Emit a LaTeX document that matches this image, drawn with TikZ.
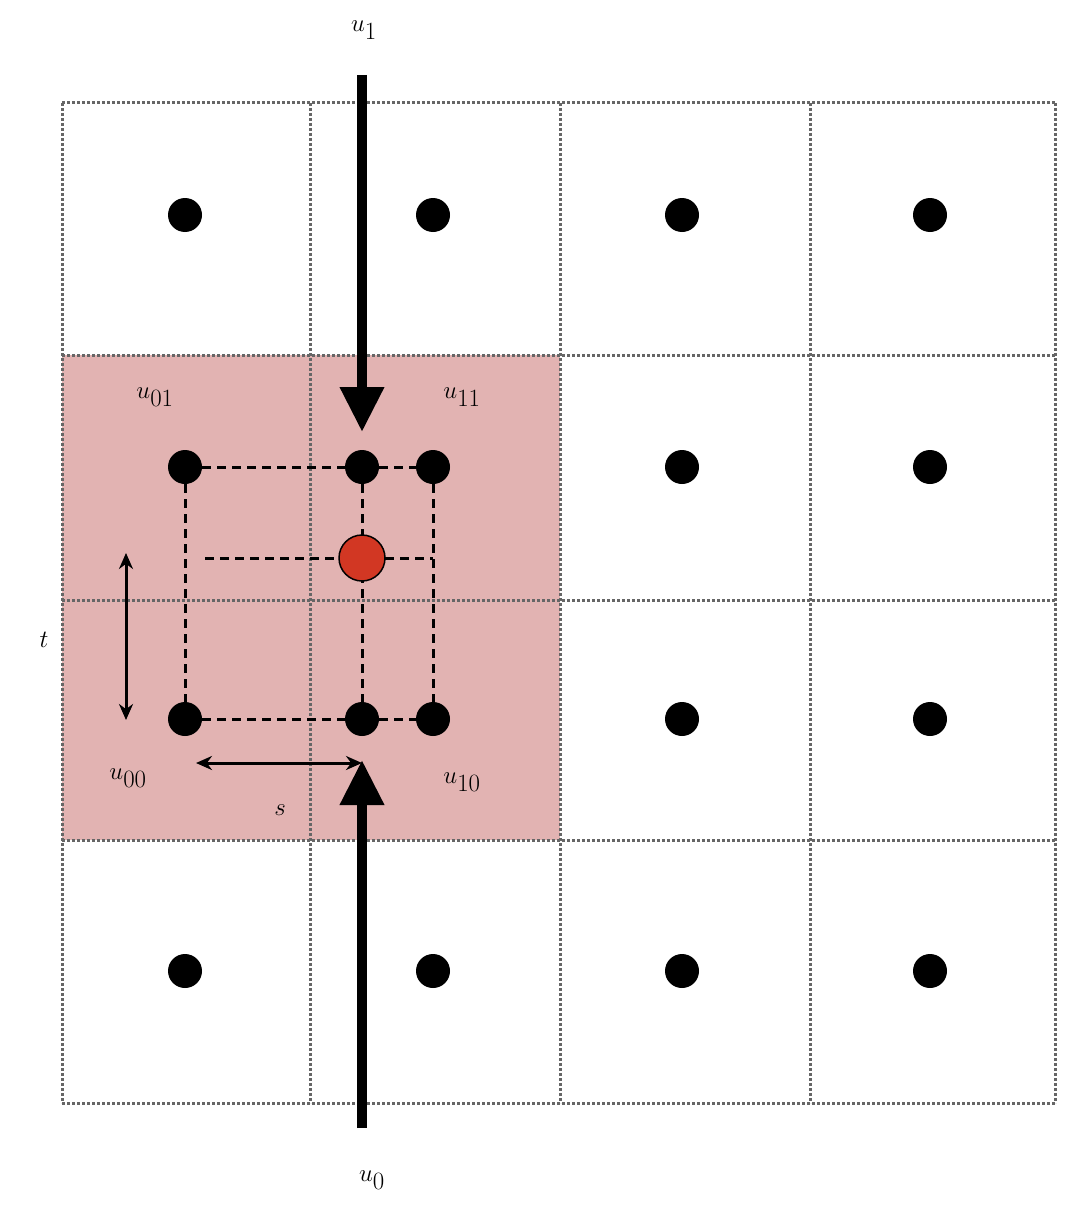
\documentclass[tikz,border=0pt]{standalone}
\usetikzlibrary{arrows.meta}
\begin{document}
\begin{tikzpicture}[x=1pt,y=-1pt,
  dot/.style={circle,fill=black,inner sep=0,minimum size=34pt},
  lbl/.style={font=\fontsize{82}{90}\selectfont},
  gridl/.style={draw=gray!80!black,line width=3pt,dotted},
  dsh/.style={line width=3pt,dash pattern=on 9pt off 6pt},
  thick arrow/.style={line width=10pt,-{Triangle[length=45pt,width=42pt]}},
  thin arrow/.style={line width=3pt,{Stealth[length=16pt,width=14pt]}-{Stealth[length=16pt,width=14pt]}}]
\useasboundingbox (0,0) rectangle (1078,1228);
\fill[fill={rgb,255:red,226;green,179;blue,178}] (62,355) rectangle (560,840);
\foreach \x in {62,310,560,810,1055} \draw[gridl] (\x,103) -- (\x,1103);
\foreach \y in {103,355,600,840,1103} \draw[gridl] (62,\y) -- (1055,\y);
\foreach \x/\i in {185/1,433/2,682/3,930/4}
  \foreach \y/\j in {215/1,467/2,719/3,971/4}
    \node[dot] (g\i\j) at (\x,\y) {};
\node[dot] (m1) at (362,467) {};
\node[dot] (m0) at (362,719) {};
\coordinate (hl) at (205,558);
\coordinate (hr) at (433,558);
\draw[dsh] (g12) -- (m1) -- (g22);
\draw[dsh] (g13) -- (m0) -- (g23);
\draw[dsh] (g12) -- (g13);
\draw[dsh] (g22) -- (g23);
\draw[dsh] (m1) -- (m0);
\draw[dsh] (hl) -- (hr);
\node[circle,draw=black,line width=1.5pt,fill={rgb,255:red,210;green,55;blue,35},inner sep=0,minimum size=46pt] (p) at (362,558) {};
\coordinate (a1s) at (362,75); \coordinate (a1e) at (362,432);
\coordinate (a0s) at (362,1128); \coordinate (a0e) at (362,760);
\draw[thick arrow] (a1s) -- (a1e);
\draw[thick arrow] (a0s) -- (a0e);
\coordinate (ts) at (126,553); \coordinate (te) at (126,720);
\coordinate (ss) at (196,763); \coordinate (se) at (362,763);
\draw[thin arrow] (ts) -- (te);
\draw[thin arrow] (ss) -- (se);
\node[lbl] (u1) at (364,30) {$u_1$};
\node[lbl] (u0) at (372,1180) {$u_0$};
\node[lbl] (u01) at (155,397) {$u_{01}$};
\node[lbl] (u11) at (462,397) {$u_{11}$};
\node[lbl] (u00) at (128,778) {$u_{00}$};
\node[lbl] (u10) at (462,782) {$u_{10}$};
\node[lbl] (t) at (44,640) {$t$};
\node[lbl] (s) at (280,810) {$s$};
\end{tikzpicture}
\end{document}
